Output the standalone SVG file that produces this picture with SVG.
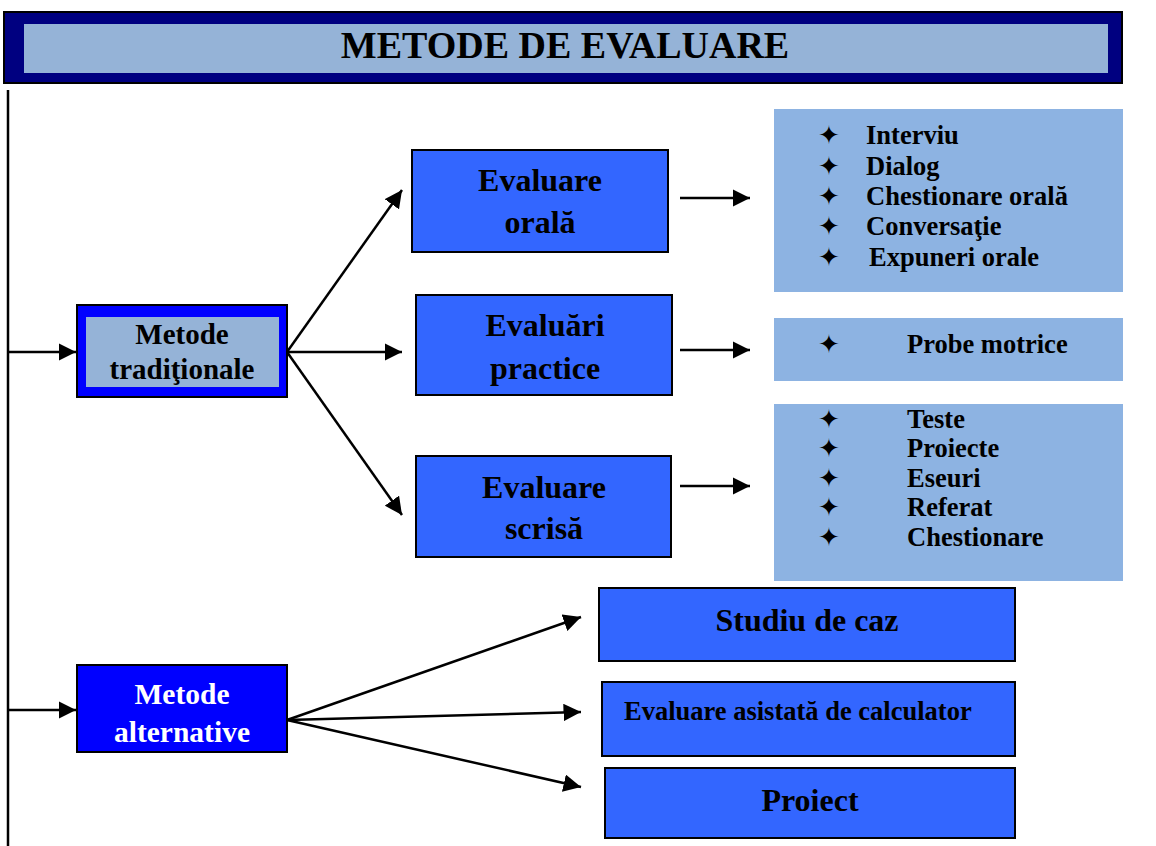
<svg xmlns="http://www.w3.org/2000/svg" width="1156" height="846" viewBox="0 0 1156 846">
<style>
.t{font-family:"Liberation Serif","Times New Roman",serif;font-weight:bold;fill:#000}
.w{fill:#fff}
.box{fill:#3366FF;stroke:#000;stroke-width:2}
.list{fill:#8DB3E2}
.ln{stroke:#000;stroke-width:2.5;fill:none}
.st{font-family:"DejaVu Sans",sans-serif;font-size:26px;fill:#000}
.li{font-size:26.5px}
</style>
<defs>
<marker id="a" viewBox="0 0 10 10" refX="10" refY="5" markerWidth="7" markerHeight="7" orient="auto">
<path d="M0,0 L10,5 L0,10 z" fill="#000"/>
</marker>
</defs>
<rect width="1156" height="846" fill="#fff"/>
<g id="title">
<rect x="4" y="12" width="1118" height="71" fill="#000080" stroke="#000" stroke-width="2"/>
<rect x="24" y="24" width="1084" height="49" fill="#95B3D7"/>
<text class="t" x="565" y="58" font-size="38" text-anchor="middle">METODE DE EVALUARE</text>
</g>
<g id="connectors">
<line class="ln" x1="8" y1="90" x2="8" y2="846"/>
<line class="ln" x1="8" y1="352" x2="76" y2="352" marker-end="url(#a)"/>
<line class="ln" x1="8" y1="710" x2="76" y2="710" marker-end="url(#a)"/>
<line class="ln" x1="287" y1="352" x2="402" y2="190" marker-end="url(#a)"/>
<line class="ln" x1="287" y1="352" x2="402" y2="352" marker-end="url(#a)"/>
<line class="ln" x1="287" y1="352" x2="402" y2="515" marker-end="url(#a)"/>
<line class="ln" x1="680" y1="198" x2="750" y2="198" marker-end="url(#a)"/>
<line class="ln" x1="680" y1="350" x2="750" y2="350" marker-end="url(#a)"/>
<line class="ln" x1="680" y1="486" x2="750" y2="486" marker-end="url(#a)"/>
<line class="ln" x1="287" y1="720" x2="581" y2="617" marker-end="url(#a)"/>
<line class="ln" x1="287" y1="720" x2="581" y2="712" marker-end="url(#a)"/>
<line class="ln" x1="287" y1="720" x2="581" y2="787" marker-end="url(#a)"/>
</g>
<g id="metode-traditionale">
<rect x="77" y="305" width="210" height="92" fill="#0000FF" stroke="#000" stroke-width="2"/>
<rect x="86" y="317" width="193" height="70" fill="#95B3D7"/>
<text class="t" x="182" y="344" font-size="29" text-anchor="middle">Metode</text>
<text class="t" x="182" y="379" font-size="29" text-anchor="middle">tradiţionale</text>
</g>
<g id="evaluare-orala">
<rect class="box" x="412" y="150" width="256" height="102"/>
<text class="t" x="540" y="191" font-size="32" text-anchor="middle">Evaluare</text>
<text class="t" x="540" y="233" font-size="32" text-anchor="middle">orală</text>
</g>
<g id="evaluari-practice">
<rect class="box" x="416" y="295" width="256" height="100"/>
<text class="t" x="545" y="336" font-size="32" text-anchor="middle">Evaluări</text>
<text class="t" x="545" y="379" font-size="32" text-anchor="middle">practice</text>
</g>
<g id="evaluare-scrisa">
<rect class="box" x="416" y="456" width="255" height="101"/>
<text class="t" x="544" y="498" font-size="32" text-anchor="middle">Evaluare</text>
<text class="t" x="544" y="539" font-size="32" text-anchor="middle">scrisă</text>
</g>
<g id="list-orala">
<rect class="list" x="774" y="109" width="349" height="183"/>
<text class="st" x="818" y="144">✦</text><text class="t li" x="866" y="144">Interviu</text>
<text class="st" x="818" y="175">✦</text><text class="t li" x="866" y="175">Dialog</text>
<text class="st" x="818" y="205">✦</text><text class="t li" x="866" y="205">Chestionare orală</text>
<text class="st" x="818" y="235">✦</text><text class="t li" x="866" y="235">Conversaţie</text>
<text class="st" x="818" y="266">✦</text><text class="t li" x="869" y="266">Expuneri orale</text>
</g>
<g id="list-practice">
<rect class="list" x="774" y="318" width="349" height="63"/>
<text class="st" x="818" y="353">✦</text><text class="t li" x="907" y="353">Probe motrice</text>
</g>
<g id="list-scrisa">
<rect class="list" x="774" y="404" width="349" height="177"/>
<text class="st" x="818" y="428">✦</text><text class="t li" x="907" y="428">Teste</text>
<text class="st" x="818" y="457">✦</text><text class="t li" x="907" y="457">Proiecte</text>
<text class="st" x="818" y="487">✦</text><text class="t li" x="907" y="487">Eseuri</text>
<text class="st" x="818" y="516">✦</text><text class="t li" x="907" y="516">Referat</text>
<text class="st" x="818" y="546">✦</text><text class="t li" x="907" y="546">Chestionare</text>
</g>
<g id="metode-alternative">
<rect x="77" y="665" width="210" height="87" fill="#0000FF" stroke="#000" stroke-width="2"/>
<text class="t w" x="182" y="704" font-size="29.5" text-anchor="middle">Metode</text>
<text class="t w" x="182" y="742" font-size="29.5" text-anchor="middle">alternative</text>
</g>
<g id="studiu-de-caz">
<rect class="box" x="599" y="588" width="416" height="73"/>
<text class="t" x="807" y="631" font-size="32" text-anchor="middle">Studiu de caz</text>
</g>
<g id="evaluare-asistata">
<rect class="box" x="602" y="682" width="413" height="74"/>
<text class="t" x="624" y="720" font-size="26.5">Evaluare asistată de calculator</text>
</g>
<g id="proiect">
<rect class="box" x="605" y="768" width="410" height="70"/>
<text class="t" x="810" y="811" font-size="32" text-anchor="middle">Proiect</text>
</g>
</svg>
